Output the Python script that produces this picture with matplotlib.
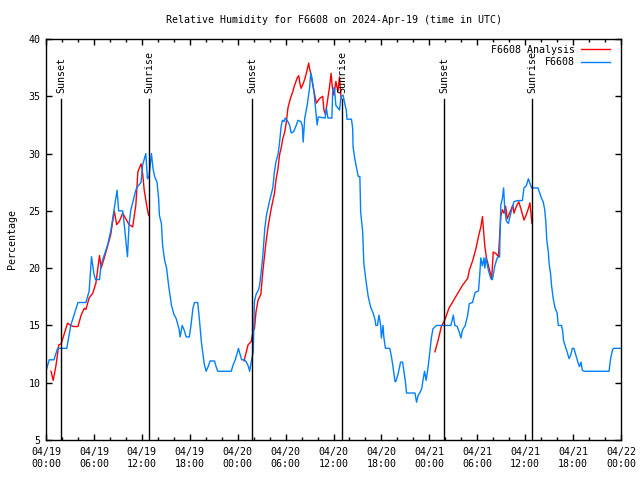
import numpy as np
import matplotlib
matplotlib.use("Agg")
import matplotlib.pyplot as plt
import matplotlib.transforms as mtransforms

plt.rcParams['font.family'] = ['DejaVu Sans Mono']
plt.rcParams['font.size'] = 7.2

# hours since 2024-04-19 00:00 UTC
obs_hours = [0.0, 0.4, 1.0, 1.45, 2.6, 3.1, 4.0, 5.0, 5.4, 5.7, 6.0, 6.2, 6.7, 6.9, 7.7, 8.1, 8.5, 8.9,
             9.1, 9.6, 9.8, 10.2, 10.4, 10.6, 11.2, 11.35, 11.9, 12.1, 12.5, 12.7, 12.9, 13.2, 13.4, 13.6,
             13.9, 14.1, 14.2, 14.45, 14.6, 14.85, 15.1, 15.35, 15.7, 16.0, 16.3, 16.65, 16.8, 17.05, 17.3,
             17.55, 17.95, 18.15, 18.4, 18.6, 19.0, 19.2, 19.45, 19.8, 20.05, 20.3, 20.55, 21.1, 21.3, 21.5,
             23.2, 23.4, 23.7, 23.95, 24.1, 24.25, 24.5, 24.85, 25.1, 25.35, 25.5, 25.7, 25.95, 26.0, 26.1,
             26.3, 26.6, 26.75, 26.95, 27.15, 27.4, 27.6, 28.0, 28.4, 28.6, 28.8, 29.05, 29.25, 29.45, 29.6,
             29.8, 29.95, 30.2, 30.5, 30.7, 31.0, 31.3, 31.55, 31.9, 32.1, 32.2, 32.4, 32.7, 33.0, 33.15,
             33.3, 33.55, 33.85, 33.95, 34.1, 34.95, 35.1, 35.3, 35.8, 35.9, 36.1, 36.3, 36.75, 36.95, 37.2,
             37.4, 37.6, 37.7, 38.25, 38.4, 38.45, 38.65, 38.9, 39.1, 39.3, 39.4, 39.65, 39.8, 40.05, 40.35,
             40.65, 40.95, 41.2, 41.3, 41.5, 41.7, 41.9, 42.0, 42.2, 42.3, 42.5, 43.05, 43.25, 43.45, 43.7,
             43.8, 44.1, 44.4, 44.65, 44.8, 45.0, 45.15, 46.2, 46.4, 46.6, 46.8, 47.05, 47.2, 47.4, 47.6,
             47.85, 48.05, 48.25, 48.45, 48.6, 48.9, 50.7, 51.0, 51.2, 51.5, 51.8, 51.95, 52.15, 52.5, 52.8,
             53.0, 53.4, 53.75, 54.15, 54.3, 54.45, 54.65, 54.85, 54.95, 55.1, 55.4, 55.7, 55.9, 56.2, 56.5,
             56.8, 56.85, 56.95, 57.15, 57.3, 57.45, 57.65, 57.9, 58.1, 58.35, 58.6, 59.05, 59.65, 59.85,
             60.15, 60.4, 60.55, 60.8, 61.6, 61.85, 62.05, 62.25, 62.45, 62.6, 62.7, 62.9, 63.0, 63.2, 63.3,
             63.5, 63.75, 64.0, 64.15, 64.55, 64.7, 64.8, 65.1, 65.25, 65.5, 65.7, 65.9, 66.1, 66.35, 66.6,
             66.8, 67.0, 67.15, 67.4, 70.5, 70.7, 70.95, 71.1, 71.6, 72.0]
obs_rh = [11, 12, 12, 13, 13, 15, 17, 17, 18, 21, 19.5, 19, 19, 20.3, 22, 23.2, 25, 26.8,
          25, 25, 23.8, 21, 23.8, 25, 26.7, 27, 27.5, 29, 30, 27.8, 28, 30, 28.7, 28,
          27.5, 26.1, 24.6, 23.9, 22, 20.7, 20, 18.5, 16.8, 16, 15.6, 14.7, 14, 15, 14.6,
          14, 14, 15, 16.5, 17, 17, 15.6, 13.6, 11.7, 11, 11.4, 11.9, 11.9, 11.4, 11,
          11, 11.5, 12, 12.6, 13, 12.6, 12, 12, 11.8, 11.4, 11, 11.8, 12.7, 14.3, 17.1,
          17.7, 18.1, 18.5, 19.7, 21.1, 23.5, 24.6, 25.9, 27, 28.4, 29.3, 29.9, 31, 32.4, 32.9,
          32.8, 33.1, 32.9, 32.5, 31.8, 31.9, 32.4, 32.9, 32.8, 32.4, 31, 33.1, 34.2, 35.7, 37,
          36.6, 35.4, 33.2, 32.5, 33.2, 33.1, 34, 33.1, 33.1, 35.5, 35.8, 34.2, 33.8, 35, 35.1,
          34.4, 33.8, 33, 33, 32.2, 30.6, 29.6, 28.7, 28, 28, 24.9, 23.2, 20.4, 19, 17.5,
          16.6, 16.1, 15.5, 15, 15, 15.9, 15, 13.9, 15, 14, 13, 13, 12.3, 11.4, 10.1,
          10.1, 10.8, 11.8, 11.8, 11.1, 10.1, 9.1, 9.1, 8.3, 8.9, 9.1, 9.5, 10.2, 11, 10.2,
          11.4, 12.6, 13.9, 14.7, 14.8, 15, 15, 15.9, 15, 14.9, 14.3, 13.9, 14.6, 15, 15.9,
          16.9, 17, 17.9, 18, 19.3, 20.9, 20.2, 20.9, 20, 20.9, 19.8, 19.1, 19, 20.2, 20.9,
          21, 22.9, 25.5, 26.1, 27, 25.1, 24.1, 23.9, 24.5, 25.2, 25.8, 25.9, 25.9, 27,
          27.2, 27.8, 27.5, 27, 27, 26.5, 26.1, 25.8, 25.1, 23.9, 22.5, 21.4, 20.4, 19.4, 18.5,
          17.4, 16.5, 16.1, 15, 15, 14.5, 13.7, 13, 12.7, 12.1, 12.4, 13, 13, 12.4, 11.8,
          11.4, 11.8, 11.1, 11, 11, 12.1, 12.9, 13, 13, 13]

ana1_hours = [0.63, 0.9, 1.25, 1.6, 1.9, 2.3, 2.7, 3.1, 3.5, 4.0, 4.4, 4.8, 5.0, 5.4, 5.85, 6.25, 6.7,
              6.9, 7.3, 7.7, 8.1, 8.55, 8.85, 9.2, 9.6, 10.0, 10.4, 10.85, 11.25, 11.5, 11.9, 12.05,
              12.3, 12.6, 12.85]
ana1_rh = [11, 10.2, 11.5, 13.3, 13.4, 14.3, 15.2, 15, 14.9, 14.9, 15.9, 16.5, 16.4, 17.4, 17.8, 18.7, 21.1,
           20, 20.9, 21.9, 22.9, 25, 23.8, 24.1, 24.8, 24.3, 23.8, 23.6, 25.5, 28.4, 29.1, 28.6,
           26.8, 25.5, 24.6]

ana2_hours = [24.8, 25.3, 25.7, 25.95, 26.1, 26.3, 26.55, 26.9, 27.15, 27.55, 27.85, 28.2, 28.6, 28.8,
              29.05, 29.25, 29.45, 29.65, 29.9, 30.1, 30.3, 30.6, 30.9, 31.1, 31.45, 31.65, 31.8, 31.95,
              32.2, 32.45, 32.7, 32.9, 33.0, 33.2, 33.4, 33.6, 33.85, 34.25, 34.65, 34.8, 35.0, 35.2,
              35.5, 35.7, 35.85, 36.05, 36.3, 36.55, 36.75, 36.85, 36.95]
ana2_rh = [11.9, 13.3, 13.6, 14.6, 14.7, 16.2, 17.2, 17.7, 19.7, 22.3, 23.8, 25.2, 26.5, 27.7,
           28.7, 29.9, 30.5, 31.3, 31.9, 32.8, 34, 34.8, 35.4, 35.9, 36.6, 36.8, 36.1, 35.7,
           36.1, 36.6, 37.3, 37.9, 37.4, 36.9, 36, 35.3, 34.4, 34.8, 35, 33.8, 33.4, 34.4,
           35.8, 37, 35.8, 35.1, 36.3, 35.4, 36.7, 35.7, 34.8]

ana3_hours = [48.7, 49.1, 49.5, 49.95, 50.45, 51.3, 52.15, 52.8, 53.0, 53.4, 53.8, 54.2, 54.45, 54.65,
              54.8, 54.95, 55.15, 55.4, 55.7, 55.8, 56.0, 56.3, 56.65, 56.8, 56.95, 57.15, 57.35, 57.55,
              57.75, 58.1, 58.45, 58.6, 58.9, 59.2, 59.5, 59.85, 60.1, 60.4, 60.6, 60.8, 60.85]
ana3_rh = [12.7, 13.7, 14.9, 15.5, 16.5, 17.5, 18.5, 19.1, 19.8, 20.6, 21.6, 22.9, 23.6, 24.5,
           23.2, 21.9, 20.9, 20.2, 19.4, 19, 21.4, 21.3, 21, 22.8, 24.5, 25.1, 24.8, 25.4,
           24.3, 24.9, 25.5, 24.8, 25.4, 25.8, 25.1, 24.2, 24.6, 25.2, 25.7, 24.2, 23.9]

sunset_hours = [1.88, 25.82, 49.84]
sunrise_hours = [12.9, 37.07, 60.86]

tick_hours = list(range(0, 73, 6))
tick_labels = ["04/19\n00:00", "04/19\n06:00", "04/19\n12:00", "04/19\n18:00",
               "04/20\n00:00", "04/20\n06:00", "04/20\n12:00", "04/20\n18:00",
               "04/21\n00:00", "04/21\n06:00", "04/21\n12:00", "04/21\n18:00",
               "04/22\n00:00"]

# analysis segments joined with gaps
ana_hours = ana1_hours + [np.nan] + ana2_hours + [np.nan] + ana3_hours
ana_rh = ana1_rh + [np.nan] + ana2_rh + [np.nan] + ana3_rh

fig = plt.figure(figsize=(6.4, 4.8), dpi=100)
ax = fig.add_axes([46 / 640, 1 - 440 / 480, 575 / 640, 401 / 480])

ax.plot(ana_hours, ana_rh, color='#ff0000', lw=1.0, label='F6608 Analysis')
ax.plot(obs_hours, obs_rh, color='#0080ff', lw=1.0, label='F6608')

trans = mtransforms.blended_transform_factory(ax.transData, ax.transAxes)
for h in sunset_hours:
    ax.axvline(h, ymin=0, ymax=0.85, color='black', lw=1.0)
    ax.text(h, 0.865, 'Sunset', rotation=90, ha='center', va='bottom', transform=trans)
for h in sunrise_hours:
    ax.axvline(h, ymin=0, ymax=0.85, color='black', lw=1.0)
    ax.text(h, 0.865, 'Sunrise', rotation=90, ha='center', va='bottom', transform=trans)

ax.set_xlim(0, 72)
ax.set_ylim(5, 40)
ax.set_xticks(tick_hours)
ax.set_xticklabels(tick_labels)
ax.set_xticks(range(0, 73, 2), minor=True)
ax.set_yticks(range(5, 41, 5))
ax.tick_params(which='both', direction='in', top=True, right=True, width=1.0)
ax.tick_params(which='major', length=4, pad=5)
ax.tick_params(which='minor', length=2.5)
ax.tick_params(axis='y', pad=4)
for s in ax.spines.values():
    s.set_linewidth(1.0)

ax.set_title('Relative Humidity for F6608 on 2024-Apr-19 (time in UTC)', fontsize=7.2, pad=11.5)
ax.set_ylabel('Percentage', labelpad=8)

ax.legend(loc='upper right', bbox_to_anchor=(1 - 5 / 575, 1), frameon=False, markerfirst=False,
          handlelength=2.9, handletextpad=0.6, borderaxespad=0.2, labelspacing=0.25)

fig.savefig('out.png', dpi=100)
